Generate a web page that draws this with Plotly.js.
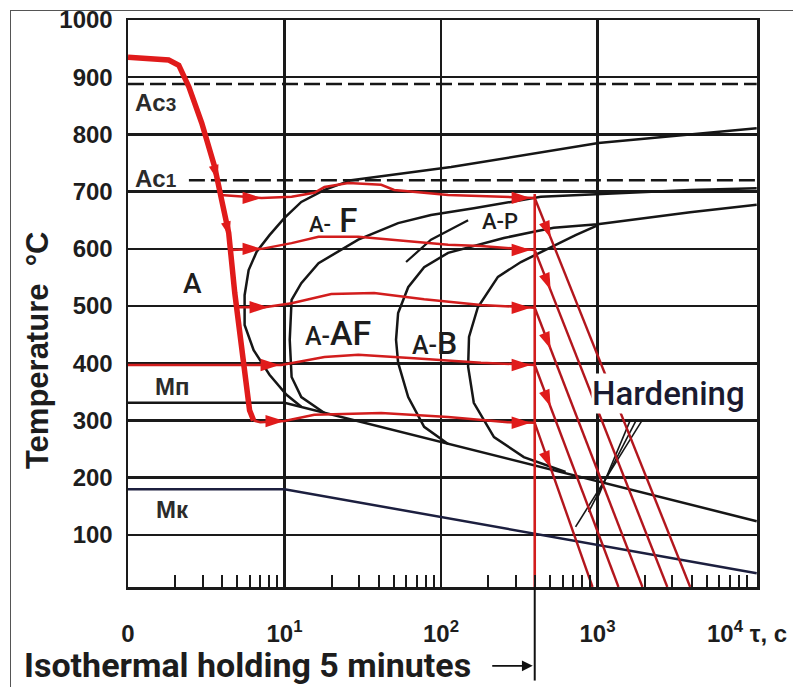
<!DOCTYPE html>
<html><head><meta charset="utf-8">
<script src="https://cdn.plot.ly/plotly-3.0.1.min.js"></script>
<style>
html,body{margin:0;padding:0;background:#fff;overflow:hidden;}
#wrap{position:relative;width:793px;height:687px;}
#chart{width:793px;height:687px;}
#frame{position:absolute;left:10px;top:10px;width:800px;height:700px;border-left:1.5px solid #555;border-top:1.5px solid #555;pointer-events:none;}
</style></head><body>
<div id="wrap"><div id="chart"></div><div id="frame"></div></div>
<script>
// ---------- axis ticks ----------
const xTickVals = [1, 10, 100, 1000];
const xTickText = ['0', '10<sup>1</sup>', '10<sup>2</sup>', '10<sup>3</sup>'];
const yTickVals = [100, 200, 300, 400, 500, 600, 700, 800, 900, 1000];
const yTickText = ['100', '200', '300', '400', '500', '600', '700', '800', '900', '1000'];
const minorDecades = [1, 10, 100, 1000];
const minorMultipliers = [2, 3, 4, 5, 6, 7, 8, 9];

// ---------- critical points ----------
const ac3Time = [1, 10400], ac3Temp = [888, 888];
const ac1Time = [2.45, 10400], ac1Temp = [720, 720];
const mnTime = [1, 10, 10400], mnTemp = [331, 331, 124];       // Mп
const mkTime = [1, 10, 10400], mkTemp = [180, 180, 33];        // Mк

// ---------- transformation curves ----------
const c1Time = [10400, 1014, 116, 26.7, 18.0, 12.8, 10, 8.02, 6.64, 5.90, 5.56, 5.56, 6.35, 8.02, 10.3, 12.8];
const c1Temp = [811, 785, 743, 720, 703, 682, 654, 624, 595, 563, 519, 467, 423, 380, 345, 324];
const c2Time = [18.0, 12.8, 11.1, 10.8, 11.1, 12.8, 16.5, 23.1, 29.6, 53.2, 86.3, 162, 434, 3908, 10400];
const c2Temp = [313, 341, 376, 441, 511, 540, 575, 598, 616, 645, 659, 671, 691, 703, 706];
const c3Time = [111, 78.0, 61.7, 53.2, 51.6, 53.2, 61.7, 78.0, 111, 162, 252, 391, 525, 1000, 3908, 10400];
const c3Temp = [259, 289, 341, 401, 441, 488, 533, 568, 593, 605, 619, 630, 637, 643, 664, 677];
const c4Time = [625, 338, 218, 162, 149, 151, 172, 231, 324, 502, 724, 1000];
const c4Temp = [210, 236, 271, 331, 394, 446, 498, 551, 577, 603, 624, 641];
const apTime = [59.8, 86.3, 149];
const apTemp = [577, 616, 650];
const hatchTime = [724, 1936, null, 877, 1772, null, 1014, 1622];
const hatchTemp = [114, 301, null, 140, 301, null, 168, 301];

// ---------- cooling path ----------
const coolTime = [1, 1.82, 2.11, 2.45, 2.96, 3.58, 3.97, 4.40, 4.81, 5.56, 5.98, 6.35];
const coolTemp = [935, 930, 921, 883, 820, 743, 685, 628, 523, 394, 318, 300];
const coolArrowTime = [3.74, 4.47];
const coolArrowTemp = [720, 621];

// isothermal holdings
const iso700Time = [3.9, 7.14, 11.1, 15.5, 18.0, 25.6, 41.5, 50.2, 111, 267, 397];
const iso700Temp = [694, 689, 691, 698, 708, 715, 712, 703, 694, 691, 689];
const iso600Time = [4.5, 7.14, 11.1, 16.5, 29.6, 48.1, 111, 180, 397];
const iso600Temp = [598, 600, 610, 621, 621, 616, 607, 605, 598];
const iso500Time = [4.93, 7.46, 11.1, 19.9, 37.4, 78, 180, 397];
const iso500Temp = [498, 498, 505, 521, 523, 512, 502, 497];
const iso400Time = [1, 5.56, 9.57, 18.0, 29.6, 67.3, 180, 397];
const iso400Temp = [397, 397, 397, 411, 415, 409, 401, 397];
const iso300Time = [6.35, 7.0, 10, 15.5, 41.5, 111, 267, 397];
const iso300Temp = [300, 297, 299, 310, 313, 306, 297, 296];
const isoArrowTime = [7.14, 374, 7.14, 374, 7.91, 374, 9.3, 374, 10, 374];
const isoArrowTemp = [689, 689, 600, 598, 498, 497, 397, 397, 299, 296];

// holding 5 minutes and hardening
const holdTime = 397;
const holdLineTemp = [696, 0];
const quenchStartTemp = [689, 598, 497, 397, 296];
const quenchEndTime = [3908, 2792, 1936, 1361, 929];
const quenchEndTemp = [9, 9, 9, 9, 9];
const quenchArrowTime = [502, 502, 502, 502, 502];
const quenchArrowTemp = [619, 528, 425, 324, 217];

// ---------- build ----------
const minorTickVals = [];
minorDecades.forEach(d => minorMultipliers.forEach(m => minorTickVals.push(d * m)));

const BLK = '#161616', RED = '#e01b1b', RED2 = '#d21d1d', RED3 = '#b3161d';
function line(x, y, color, width, dash) {
  return {type: 'scatter', mode: 'lines', x: x, y: y, line: {color: color, width: width, dash: dash || 'solid'},
          hoverinfo: 'skip', showlegend: false, connectgaps: false};
}
function arrows(x, y, color, size, angle) {
  return {type: 'scatter', mode: 'markers', x: x, y: y,
          marker: {symbol: 'arrow', size: size, color: color, angle: angle, line: {width: 0}},
          hoverinfo: 'skip', showlegend: false, cliponaxis: false};
}
const qX = [], qY = [];
quenchStartTemp.forEach((t0, i) => { qX.push(holdTime, quenchEndTime[i], null); qY.push(t0, quenchEndTemp[i], null); });

const traces = [
  line(ac3Time, ac3Temp, BLK, 2.5, '16px,6px'),
  line(ac1Time, ac1Temp, BLK, 2.5, '16px,6px'),
  line(mnTime, mnTemp, BLK, 2.5),
  line(mkTime, mkTemp, '#1c1f3f', 2.5),
  line(c1Time, c1Temp, BLK, 2.5),
  line(c2Time, c2Temp, BLK, 2.5),
  line(c3Time, c3Temp, BLK, 2.5),
  line(c4Time, c4Temp, BLK, 2.5),
  line(apTime, apTemp, BLK, 2.2),
  line(hatchTime, hatchTemp, BLK, 1.6),
  line(qX, qY, RED3, 2.4),
  line([holdTime, holdTime], holdLineTemp, RED2, 2.6),
  line(iso700Time, iso700Temp, RED2, 2.5),
  line(iso600Time, iso600Temp, RED2, 2.5),
  line(iso500Time, iso500Temp, RED2, 2.5),
  line(iso400Time, iso400Temp, RED2, 2.5),
  line(iso300Time, iso300Temp, RED2, 2.5),
  line(coolTime, coolTemp, RED, 5.5),
  arrows(isoArrowTime, isoArrowTemp, RED, 20, 90),
  arrows(quenchArrowTime, quenchArrowTemp, RED, 18, 158),
  arrows(coolArrowTime, coolArrowTemp, RED, 16, 165),
  // carrier for the minor-tick axis
  {type: 'scatter', mode: 'lines', x: [1, 10000], y: [0, 0], xaxis: 'x2', yaxis: 'y',
   line: {width: 0, color: 'rgba(0,0,0,0)'}, hoverinfo: 'skip', showlegend: false}
];

const LBL = 'Liberation Sans, Arial, sans-serif';
const RB = 'Roboto, Liberation Sans, sans-serif';
function ann(text, x, y, size, family, weight, extra) {
  return Object.assign({xref: 'paper', yref: 'paper', x: x, y: y, text: text, showarrow: false,
    xanchor: 'center', yanchor: 'middle', font: {size: size, family: family, weight: weight, color: '#1d1d1d'}}, extra || {});
}
const grey = (s) => ({size: s, family: LBL, weight: 700, color: '#2b2b2b'});

const annotations = [
  ann('Ac<span style="font-size:19px">3</span>', 0.008, 0.855, 24, LBL, 700, {xanchor: 'left', font: grey(24)}),
  ann('Ac<span style="font-size:19px">1</span>', 0.008, 0.721, 24, LBL, 700, {xanchor: 'left', font: grey(24)}),
  ann('A', 0.103, 0.536, 28, RB, 500),
  ann('Mп', 0.070, 0.354, 24, LBL, 700, {font: grey(24)}),
  ann('Mк', 0.070, 0.136, 24, LBL, 700, {font: grey(24)}),
  ann('<span style="font-size:22px">A-</span> F', 0.326, 0.647, 33, RB, 500),
  ann('A-P', 0.591, 0.644, 22, RB, 500),
  ann('<span style="font-size:25px">A-</span>AF', 0.334, 0.448, 34, RB, 500),
  ann('<span style="font-size:25px">A-</span>B', 0.488, 0.430, 32, RB, 500),
  ann('Hardening', 0.859, 0.342, 33, RB, 500, {bgcolor: '#ffffff', borderpad: 0, font: {size: 33, family: RB, weight: 500, color: '#1a1a30'}}),
  ann('10<sup>4</sup> τ, c', 0.917, -0.079, 24, LBL, 700, {xanchor: 'left'}),
  ann('Temperature  °C', -0.143, 0.418, 31, LBL, 700, {textangle: -90}),
  ann('Isothermal holding 5 minutes', -0.1685, -0.137, 34, RB, 700, {xanchor: 'left'}),
  {xref: 'x', yref: 'paper', x: Math.log10(holdTime), y: -0.139, ax: -44, ay: 0, text: '', showarrow: true,
   arrowhead: 2, arrowsize: 1.2, arrowwidth: 1.8, arrowcolor: '#111', standoff: 2}
];

const XR = [0, 4.019];
const layout = {
  width: 793, height: 687,
  margin: {l: 128, r: 36, t: 20, b: 100, pad: 0},
  paper_bgcolor: '#ffffff', plot_bgcolor: '#ffffff',
  showlegend: false, hovermode: false,
  font: {family: LBL, color: '#1d1d1d'},
  xaxis: {
    type: 'log', range: XR, tickmode: 'array', tickvals: xTickVals, ticktext: xTickText,
    showgrid: true, gridcolor: '#1a1a1a', gridwidth: 2.5, zeroline: false,
    showline: true, linecolor: '#1a1a1a', linewidth: 2.5, mirror: true,
    ticks: '', ticklabelstandoff: 24,
    tickfont: {size: 24, family: LBL, weight: 700, color: '#1d1d1d'}
  },
  xaxis2: {
    type: 'log', range: XR, overlaying: 'x', anchor: 'y', side: 'bottom',
    tickmode: 'array', tickvals: minorTickVals, ticks: 'inside', ticklen: 12, tickwidth: 2, tickcolor: '#1a1a1a',
    showticklabels: false, showgrid: false, zeroline: false, showline: false
  },
  yaxis: {
    range: [9, 1000], tickmode: 'array', tickvals: yTickVals, ticktext: yTickText,
    showgrid: true, gridcolor: '#1a1a1a', gridwidth: 2.5, zeroline: false,
    showline: true, linecolor: '#1a1a1a', linewidth: 2.5, mirror: true,
    ticks: '', ticklabelstandoff: 8,
    tickfont: {size: 24, family: LBL, weight: 700, color: '#1d1d1d'}
  },
  shapes: [
    {type: 'line', xref: 'x', yref: 'paper', x0: holdTime, x1: holdTime, y0: -0.165, y1: 0,
     line: {color: '#111', width: 2}}
  ],
  annotations: annotations
};

Plotly.newPlot('chart', traces, layout, {staticPlot: true, displayModeBar: false});
</script></body></html>
